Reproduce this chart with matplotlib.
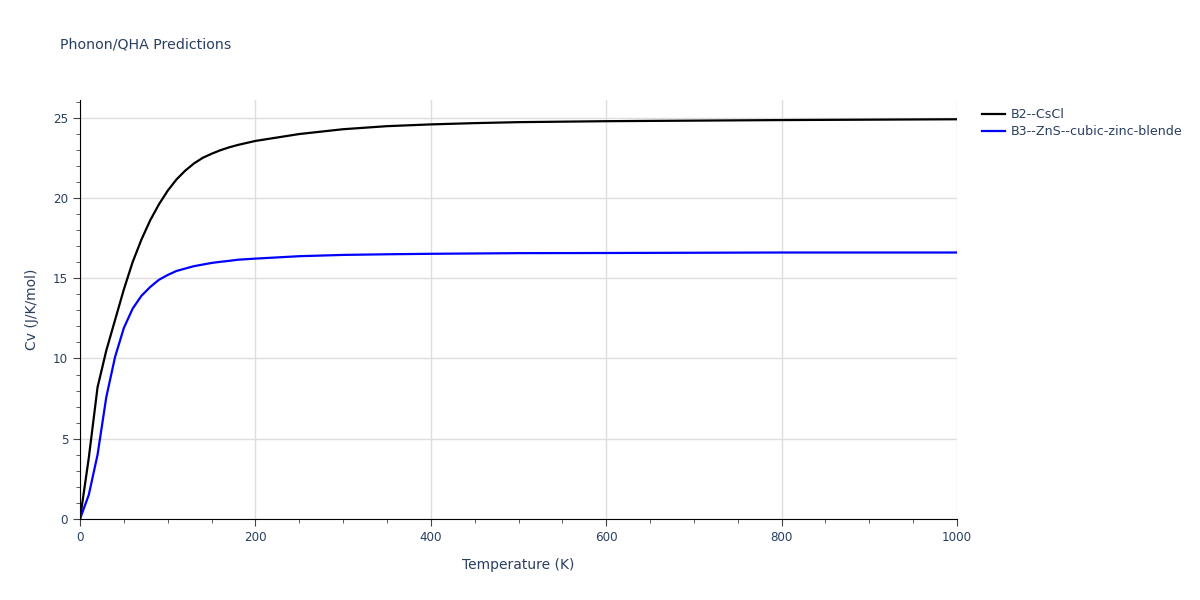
import numpy as np
import matplotlib.pyplot as plt
from matplotlib.ticker import MultipleLocator

# Temperature (K) and heat capacity Cv (J/K/mol)
temp = [0, 10, 20, 30, 40, 50, 60, 70, 80, 90, 100, 110, 120, 130, 140, 150,
        160, 170, 180, 200, 250, 300, 350, 400, 450, 500, 600, 800, 1000]
cv_b2 = [0, 3.8, 8.2, 10.5, 12.4, 14.3, 16.0, 17.4, 18.6, 19.6, 20.45, 21.15,
         21.7, 22.15, 22.5, 22.75, 22.97, 23.15, 23.3, 23.55, 23.98, 24.28,
         24.47, 24.58, 24.66, 24.72, 24.78, 24.85, 24.9]
cv_b3 = [0, 1.5, 4.0, 7.6, 10.1, 11.9, 13.1, 13.9, 14.45, 14.9, 15.2, 15.45,
         15.6, 15.75, 15.85, 15.95, 16.02, 16.08, 16.15, 16.22, 16.37, 16.45,
         16.49, 16.52, 16.54, 16.56, 16.57, 16.6, 16.6]

names = ["B2--CsCl", "B3--ZnS--cubic-zinc-blende"]
txt = "#2a3f5f"

fig = plt.figure(figsize=(12, 6), dpi=100)
ax = fig.add_axes([80/1200, 1 - 519/600, 877/1200, 419/600])

ax.plot(temp, cv_b2, color="black", lw=1.6, label=names[0])
ax.plot(temp, cv_b3, color="blue", lw=1.6, label=names[1])

ax.set_xlim(0, 1000)
ax.set_ylim(0, 26.1)
ax.xaxis.set_major_locator(MultipleLocator(200))
ax.xaxis.set_minor_locator(MultipleLocator(50))
ax.yaxis.set_major_locator(MultipleLocator(5))
ax.yaxis.set_minor_locator(MultipleLocator(1))
ax.grid(True, which="major", color="#dedede", lw=1)
ax.set_axisbelow(True)
for s in ["top", "right"]:
    ax.spines[s].set_visible(False)
for s in ["left", "bottom"]:
    ax.spines[s].set_color("black")
ax.tick_params(which="major", length=5, color="#444444", labelsize=8.6, labelcolor=txt)
ax.tick_params(which="minor", length=3, color="#444444")

ax.set_xlabel("Temperature (K)", fontsize=10, color=txt, labelpad=10)
ax.set_ylabel("Cv (J/K/mol)", fontsize=10, color=txt, labelpad=10)
fig.text(60/1200, 1 - 45/600, "Phonon/QHA Predictions", fontsize=10.2, color=txt, va="center")

ax.legend(loc="upper left", bbox_to_anchor=(977/1200, 1 - 103/600), bbox_transform=fig.transFigure,
          frameon=False, fontsize=9.1, labelcolor=txt, handlelength=1.8, handletextpad=0.5,
          labelspacing=0.35, borderaxespad=0)

fig.savefig("out.png", dpi=100)
